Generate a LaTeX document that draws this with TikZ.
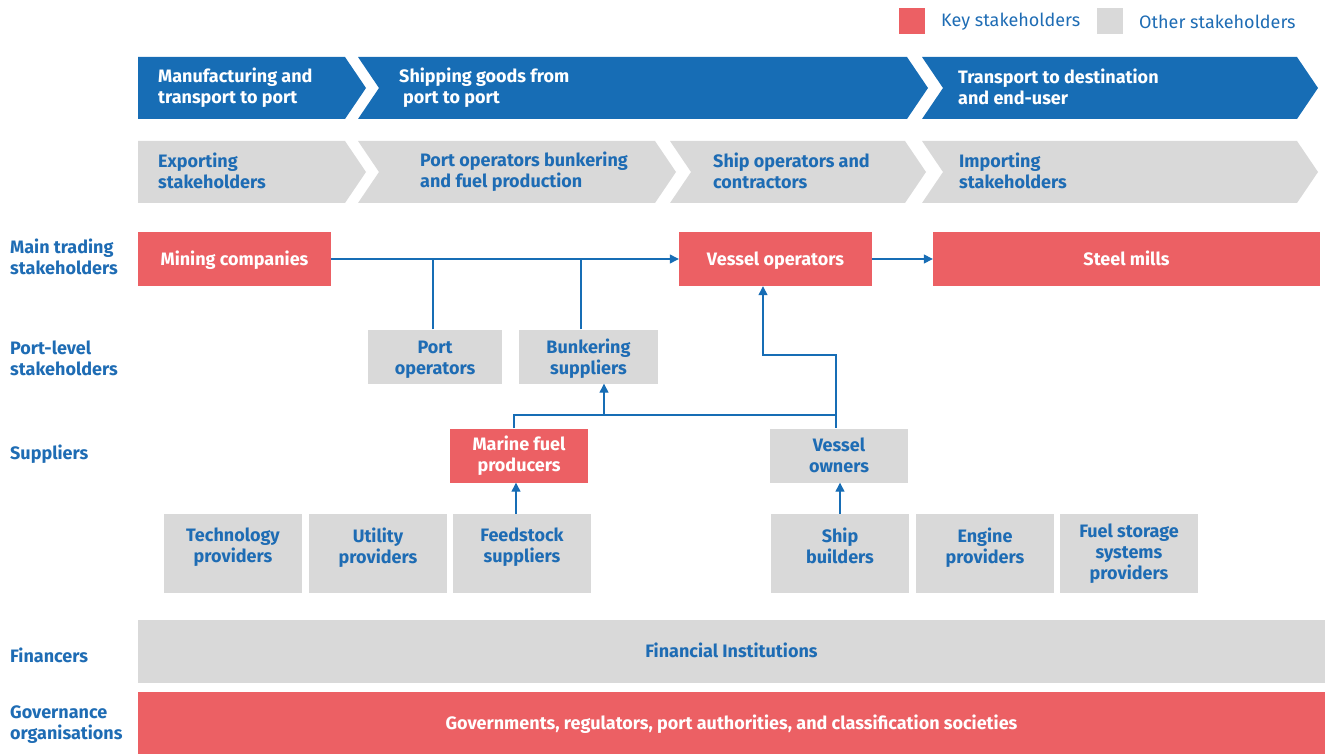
\documentclass[tikz,border=0pt]{standalone}
\usepackage{fontspec}
\setmainfont{Fira Sans}
\newfontfamily\legendfont{Fira Sans}
\usetikzlibrary{arrows.meta}
\definecolor{keyred}{HTML}{EC6064}
\definecolor{othergray}{HTML}{D9D9D9}
\definecolor{stageblue}{HTML}{176DB5}
\definecolor{textblue}{HTML}{1E6CB4}
\begin{document}
\begin{tikzpicture}[x=1pt, y=-1pt,
  every node/.style={font=\bfseries\fontsize{18}{21}\selectfont, align=center, inner sep=0pt},
  keybox/.style={fill=keyred, text=white, minimum height=54pt},
  otherbox/.style={fill=othergray, text=textblue, minimum height=54pt},
  lowbox/.style={otherbox, minimum width=138pt, minimum height=79pt},
  oneline/.style={text height=12.4pt, text depth=0pt},
  rowlabel/.style={anchor=west, align=left, text=textblue},
  stagetext/.style={anchor=west, align=left},
  legendtext/.style={anchor=west, text=textblue, font=\legendfont\fontsize{18}{21}\selectfont},
  link/.style={draw=stageblue, line width=1.3pt},
  >={Triangle[length=9pt,width=9pt]}]
\useasboundingbox (0,0) rectangle (1325,754);
% legend
\node[fill=keyred, minimum size=26pt] (keysq) at (911.5,21.5) {};
\node[legendtext] (keylab) at (941,22) {Key stakeholders};
\node[fill=othergray, minimum size=26pt] (othersq) at (1109.5,21.5) {};
\node[legendtext] (otherlab) at (1139,22) {Other stakeholders};
% stage chevrons
\foreach \l/\r/\n in {138/345/0, 358/907/21, 922/1297/21}
  \fill[stageblue] (\l,57) -- (\r,57) -- (\r+21,88) -- (\r,119) -- (\l,119) -- (\l+\n,88) -- cycle;
\foreach \l/\r/\n in {138/345/0, 358/655/21, 670/905/21, 922/1297/21}
  \fill[othergray] (\l,141) -- (\r,141) -- (\r+21,172) -- (\r,203) -- (\l,203) -- (\l+\n,172) -- cycle;
\node[stagetext, text=white] (manuf) at (158,88) {Manufacturing and\\transport to port};
\node[stagetext, text=white] (shipping) at (399,88) {Shipping goods from\\\hspace*{4pt}port to port};
\node[stagetext, text=white] (transport) at (958,87) {Transport to destination\\and end-user};
\node[stagetext, text=textblue] (exporting) at (158,171) {Exporting\\stakeholders};
\node[stagetext, text=textblue] (portfuel) at (420,172) {Port operators bunkering\\and fuel production};
\node[stagetext, text=textblue] (shipops) at (713,171) {Ship operators and\\contractors};
\node[stagetext, text=textblue] (importing) at (959,171) {Importing\\stakeholders};
% row labels
\node[rowlabel] (rowmain) at (10,257) {Main trading\\stakeholders};
\node[rowlabel] (rowport) at (10,358) {Port-level\\stakeholders};
\node[rowlabel] (rowsup) at (10,454) {Suppliers};
\node[rowlabel] (rowfin) at (10,655) {Financers};
\node[rowlabel] (rowgov) at (10,725) {Governance\\organisations};
% stakeholders
\node[keybox, oneline, minimum width=193pt] (mining) at (234.5,259) {Mining companies};
\node[keybox, oneline, minimum width=193pt] (vessel) at (775.5,259) {Vessel operators};
\node[keybox, oneline, minimum width=387pt] (steel) at (1126.5,259) {Steel mills};
\node[otherbox, minimum width=134pt] (port) at (435,356.5) {\rule{0pt}{18pt}Port\\operators};
\node[otherbox, minimum width=139pt] (bunker) at (588.5,356.5) {\rule{0pt}{18pt}Bunkering\\suppliers};
\node[keybox, minimum width=138pt] (marine) at (519,455.5) {Marine fuel\\producers};
\node[otherbox, minimum width=138pt] (owners) at (839,455.5) {Vessel\\owners};
\node[lowbox] (tech) at (233,553.5) {Technology\\providers\\[-5pt]\mbox{}};
\node[lowbox] (utility) at (378,553.5) {Utility\\providers\\[-5pt]\mbox{}};
\node[lowbox] (feed) at (522,553.5) {Feedstock\\suppliers\\[-5pt]\mbox{}};
\node[lowbox] (builders) at (840,553.5) {Ship\\builders\\[-5pt]\mbox{}};
\node[lowbox] (engine) at (985,553.5) {Engine\\providers\\[-5pt]\mbox{}};
\node[lowbox] (storage) at (1129,553.5) {Fuel storage\\systems\\providers};
\node[otherbox, oneline, minimum width=1187pt, minimum height=63pt] (finance) at (731.5,651.5) {Financial Institutions};
\node[keybox, oneline, minimum width=1187pt, minimum height=62pt] (govern) at (731.5,723) {Governments, regulators, port authorities, and classification societies};
% connectors
\draw[link,->] (mining) -- (vessel);
\draw[link,->] (vessel) -- (steel);
\coordinate (porttop) at ([xshift=-2pt]port.north);
\coordinate (bunktop) at ([xshift=-7.5pt]bunker.north);
\draw[link] (porttop) -- (porttop |- mining.east);
\draw[link] (bunktop) -- (bunktop |- mining.east);
\coordinate (jl) at (514,415);
\coordinate (jb) at (604,415);
\coordinate (jr) at (836,415);
\coordinate (vk) at (763,355);
\draw[link] (jl |- marine.north) -- (jl) -- (jr) -- (jr |- owners.north);
\draw[link,->] (jb) -- (jb |- bunker.south);
\draw[link,->] (jr) |- (vk) -- (vk |- vessel.south);
\coordinate (feedtop) at ([xshift=-6pt]feed.north);
\draw[link,->] (feedtop) -- (feedtop |- marine.south);
\draw[link,->] (builders.north) -- (builders.north |- owners.south);
\end{tikzpicture}
\end{document}
